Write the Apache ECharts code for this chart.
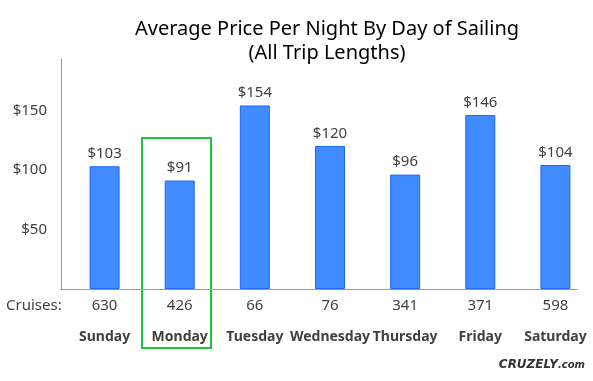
<!DOCTYPE html>
<html>
<head>
<meta charset="utf-8">
<script src="https://cdn.jsdelivr.net/npm/echarts@6/dist/echarts.min.js"></script>
<style>html,body{margin:0;padding:0;background:#fff;}#c{width:593px;height:381px;}</style>
</head>
<body>
<div id="c"></div>
<script>
const days = ['Sunday', 'Monday', 'Tuesday', 'Wednesday', 'Thursday', 'Friday', 'Saturday'];
const prices = [103, 91, 154, 120, 96, 146, 104];
const cruises = [630, 426, 66, 76, 341, 371, 598];
const yTicks = [50, 100, 150];

const FONT = 'Noto Sans';
const TXT = '#404040';
const chart = echarts.init(document.getElementById('c'), null, {renderer: 'canvas'});
chart.setOption({
  animation: false,
  backgroundColor: '#ffffff',
  title: {
    text: 'Average Price Per Night By Day of Sailing\n(All Trip Lengths)',
    left: 322, top: 12, textAlign: 'center',
    textStyle: {fontFamily: FONT, fontSize: 20, fontWeight: 'normal', color: '#000', lineHeight: 24}
  },
  grid: [
    {left: 67, width: 531, top: 59, bottom: 92},
    {left: 61, right: 16, top: 59, bottom: 92}
  ],
  xAxis: [
    {
      type: 'category', gridIndex: 0, data: days,
      axisLine: {show: false}, axisTick: {show: false},
      axisLabel: {
        interval: 0, margin: 4,
        formatter: (v, i) => '{n|' + cruises[i] + '}\n{d|' + v + '}',
        rich: {
          n: {fontFamily: FONT, fontSize: 15, lineHeight: 26, color: TXT},
          d: {fontFamily: FONT, fontSize: 14, fontWeight: 'bold', lineHeight: 36, color: TXT}
        }
      }
    },
    {
      type: 'category', gridIndex: 1, data: [''],
      axisLine: {show: true, lineStyle: {color: '#9a9a9a', width: 1}},
      axisTick: {show: false}, axisLabel: {show: false}
    }
  ],
  yAxis: [
    {type: 'value', gridIndex: 0, min: 0, max: 193, show: false, splitLine: {show: false}},
    {
      type: 'value', gridIndex: 1, min: 0, max: 193, interval: 50,
      splitLine: {show: false},
      axisLine: {show: true, lineStyle: {color: '#9a9a9a', width: 1}},
      axisTick: {show: false},
      axisLabel: {
        margin: 14, fontFamily: FONT, fontSize: 15, color: TXT,
        formatter: v => yTicks.indexOf(v) >= 0 ? '$' + v : ''
      }
    }
  ],
  series: [{
    type: 'bar', xAxisIndex: 0, yAxisIndex: 0, data: prices, barWidth: 30,
    itemStyle: {color: '#3f8bff', borderColor: '#1c68ff', borderWidth: 1},
    label: {show: true, position: 'top', distance: 5, formatter: p => '$' + p.value,
      fontFamily: FONT, fontSize: 15, color: TXT}
  }],
  graphic: [
    {type: 'rect', shape: {x: 142, y: 138, width: 69, height: 210},
     style: {fill: 'none', stroke: '#1ec43c', lineWidth: 2}},
    {type: 'text', x: 6, y: 306,
     style: {text: 'Cruises:', font: '15px "Noto Sans"', fill: TXT, textVerticalAlign: 'middle'}},
    {type: 'text', x: 585, y: 365,
     style: {text: '{a|CRUZELY}{b|.com}', textAlign: 'right', textVerticalAlign: 'middle',
       rich: {
         a: {fontFamily: 'DejaVu Sans', fontStyle: 'italic', fontWeight: 'bold', fontSize: 12, fill: '#333', color: '#333'},
         b: {fontFamily: 'DejaVu Sans', fontStyle: 'italic', fontWeight: 'bold', fontSize: 10, fill: '#333', color: '#333'}
       }}}
  ]
});
</script>
</body>
</html>
